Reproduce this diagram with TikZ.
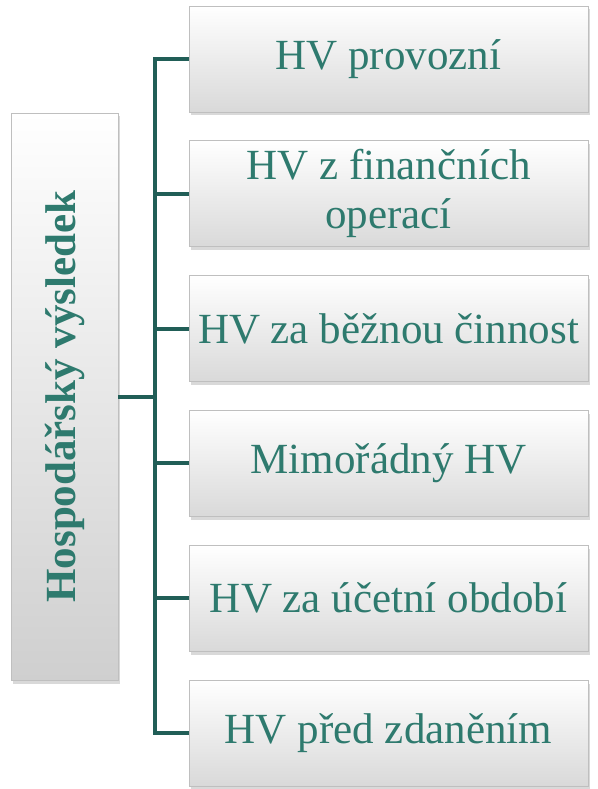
\documentclass[tikz,border=0pt]{standalone}
\usepackage{fontspec}
\setmainfont{Liberation Serif}
\usepackage[HTML]{xcolor}
\usepackage{tikz}
\usetikzlibrary{positioning, shadows}
\definecolor{hvtext}{HTML}{2E7A6E}
\definecolor{hvline}{HTML}{215E57}

\begin{document}
\begin{tikzpicture}[x=1pt,y=1pt,
  box/.style={draw=gray!50, line width=0.8pt, top color=white, bottom color=gray!30,
    minimum width=399pt, minimum height=106pt, inner sep=0pt, text=hvtext, align=center,
    font=\fontsize{43}{49}\selectfont,
    drop shadow={shadow xshift=1.5pt, shadow yshift=-3.5pt, opacity=0.3}},
  rootbox/.style={box, minimum width=107pt, minimum height=567pt, bottom color=gray!38},
  conn/.style={draw=hvline, line width=4pt}]
\useasboundingbox (0,0) rectangle (597,-789);

\node[rootbox] (root) at (64.5,-396.5) {\rotatebox{90}{\bfseries Hospodářský výsledek}};
\coordinate (trunk) at (155,-396.5);

\foreach \lbl [count=\i] in {HV provozní, {HV z finančních\\operací}, HV za běžnou činnost,
    Mimořádný HV, HV za účetní období, HV před zdaněním}{
  \node[box] (hv\i) at (388.5,{-59-134.8*(\i-1)}) {\lbl};
  \draw[conn] (root.east) -- (trunk) |- (hv\i.west);
}
\end{tikzpicture}
\end{document}
